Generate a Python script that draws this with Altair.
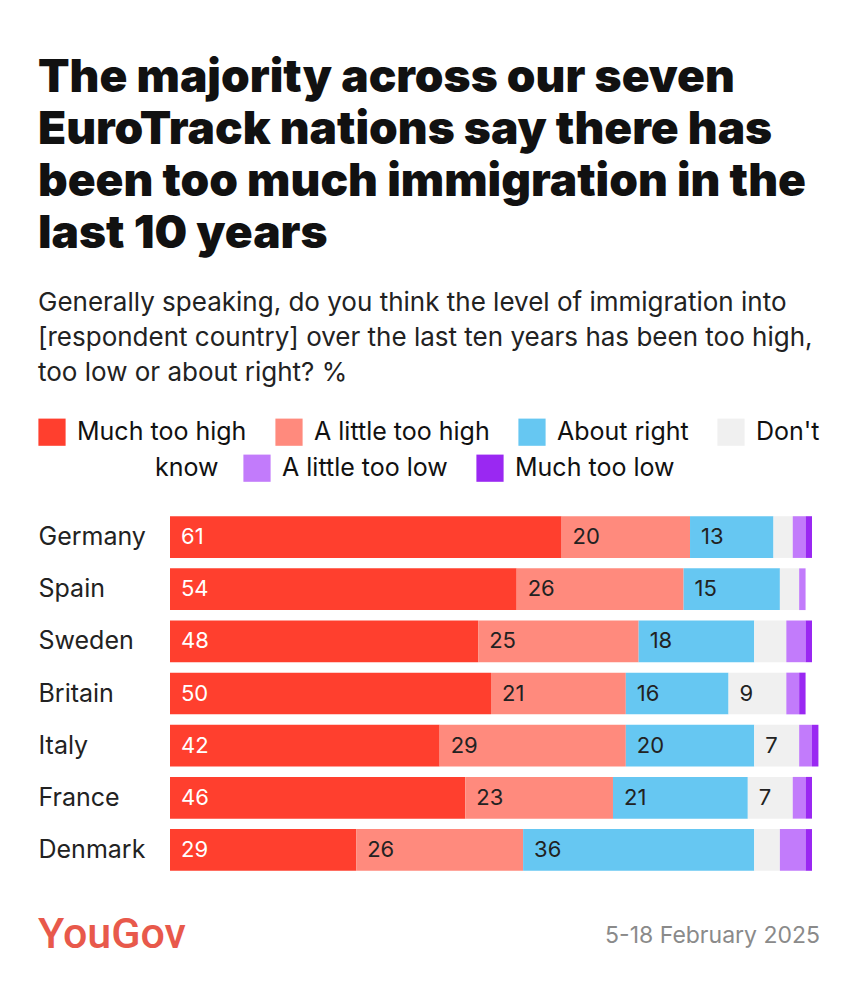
import altair as alt
import pandas as pd

countries = ["Germany", "Spain", "Sweden", "Britain", "Italy", "France", "Denmark"]
categories = ["Much too high", "A little too high", "About right", "Don't know",
              "A little too low", "Much too low"]
much_too_high = [61, 54, 48, 50, 42, 46, 29]
little_too_high = [20, 26, 25, 21, 29, 23, 26]
about_right = [13, 15, 18, 16, 20, 21, 36]
dont_know = [3, 3, 5, 9, 7, 7, 4]
little_too_low = [2, 1, 3, 2, 2, 2, 4]
much_too_low = [1, 0, 1, 1, 1, 1, 1]
colors = ["#FF3F2E", "#FF8A7D", "#66C7F2", "#F0F0F0", "#C27BFB", "#9A28F2"]

title_lines = ["The majority across our seven", "EuroTrack nations say there has",
               "been too much immigration in the", "last 10 years"]
subtitle_lines = ["Generally speaking, do you think the level of immigration into",
                  "[respondent country] over the last ten years has been too high,",
                  "too low or about right? %"]
legend_wrap = ["Don't", "know"]
footer_source = "YouGov"
footer_date = "5-18 February 2025"

series = [much_too_high, little_too_high, about_right, dont_know, little_too_low, much_too_low]
rows = []
for ci, cat in enumerate(categories):
    for i, c in enumerate(countries):
        rows.append({"country": c, "category": cat, "order": ci, "value": series[ci][i]})
df = pd.DataFrame(rows)

FONT = "Inter"
LFS = 25

base = alt.Chart(df).transform_stack(
    stack="value", groupby=["country"], as_=["start", "end"],
    sort=[alt.SortField("order", order="ascending")]
)

y_enc = alt.Y("country:N", sort=countries, title=None,
              scale=alt.Scale(paddingInner=0.2, paddingOuter=0.1),
              axis=alt.Axis(domain=False, ticks=False, tickSize=0, labelAlign="left",
                            labelPadding=132, labelFontSize=LFS, labelFont=FONT,
                            labelColor="#222222", grid=False))
x_scale = alt.Scale(domain=[0, 100], nice=False)

row1 = categories[:4]
row2 = categories[4:]


def legend(x, y, expr=None):
    kw = dict(title=None, orient="none", legendX=x, legendY=y,
              direction="horizontal", symbolType="square",
              symbolSize=740, symbolStrokeWidth=0, labelLimit=400,
              labelFontSize=LFS, labelFont=FONT, labelColor="#111111",
              columnPadding=28, labelOffset=11, symbolOpacity=1)
    if expr:
        kw["labelExpr"] = expr
    return alt.Legend(**kw)


bars_a = base.transform_filter(
    alt.FieldOneOfPredicate(field="category", oneOf=row1)
).mark_bar(cornerRadius=0, strokeWidth=0).encode(
    x=alt.X("start:Q", scale=x_scale, axis=None),
    x2="end:Q",
    y=y_enc,
    color=alt.Color("category:N", sort=row1,
                    scale=alt.Scale(domain=row1, range=colors[:4]),
                    legend=legend(-132, -93,
                                  f"datum.label == \"Don't know\" ? \"{legend_wrap[0]}\" : datum.label")),
)

bars_b = base.transform_filter(
    alt.FieldOneOfPredicate(field="category", oneOf=row2)
).mark_bar(cornerRadius=0, strokeWidth=0).encode(
    x=alt.X("start:Q", scale=x_scale, axis=None),
    x2="end:Q",
    y=y_enc,
    color=alt.Color("category:N", sort=row2,
                    scale=alt.Scale(domain=row2, range=colors[4:]),
                    legend=legend(73, -57)),
)

know = alt.Chart(pd.DataFrame({"t": [legend_wrap[1]]})).mark_text(
    align="left", baseline="middle", fontSize=LFS, font=FONT, color="#111111"
).encode(text="t:N", x=alt.value(-15), y=alt.value(-43))

labels = base.transform_filter(alt.datum.value >= 7).mark_text(
    align="left", baseline="middle", dx=11, fontSize=22, font=FONT
).encode(
    x=alt.X("start:Q", scale=x_scale, axis=None),
    y=y_enc,
    text="value:Q",
    color=alt.condition(alt.datum.category == "Much too high",
                        alt.value("#ffffff"), alt.value("#222222")),
)

src = alt.Chart(pd.DataFrame({"t": [footer_source]})).mark_text(
    align="left", baseline="middle", fontSize=43, font="Roboto",
    color="#E8594B", fontWeight=500
).encode(text="t:N", x=alt.value(-132), y=alt.value(424))

date = alt.Chart(pd.DataFrame({"t": [footer_date]})).mark_text(
    align="right", baseline="middle", fontSize=23, font=FONT, color="#8A8A8A"
).encode(text="t:N", x=alt.value(650), y=alt.value(425))

chart = alt.layer(bars_a, bars_b, know, labels, src, date).resolve_scale(
    color="independent"
).properties(
    width=642, height=365,
    view=alt.ViewBackground(stroke="transparent", strokeWidth=0, strokeOpacity=0),
    padding={"left": 30, "top": 47, "right": 10, "bottom": 20},
    title=alt.TitleParams(
        text=title_lines, subtitle=subtitle_lines, anchor="start", frame="bounds",
        font=FONT, fontSize=46, fontWeight=900, lineHeight=52, color="#111111",
        subtitleFont=FONT, subtitleFontSize=26, subtitleLineHeight=35,
        subtitleColor="#222222", subtitlePadding=32, offset=31,
    ),
).configure_view(strokeWidth=0, stroke="transparent", strokeOpacity=0).configure_axis(
    grid=False
).configure(background="white")

chart.save("out.html", embed_options={"renderer": "svg", "actions": False})
